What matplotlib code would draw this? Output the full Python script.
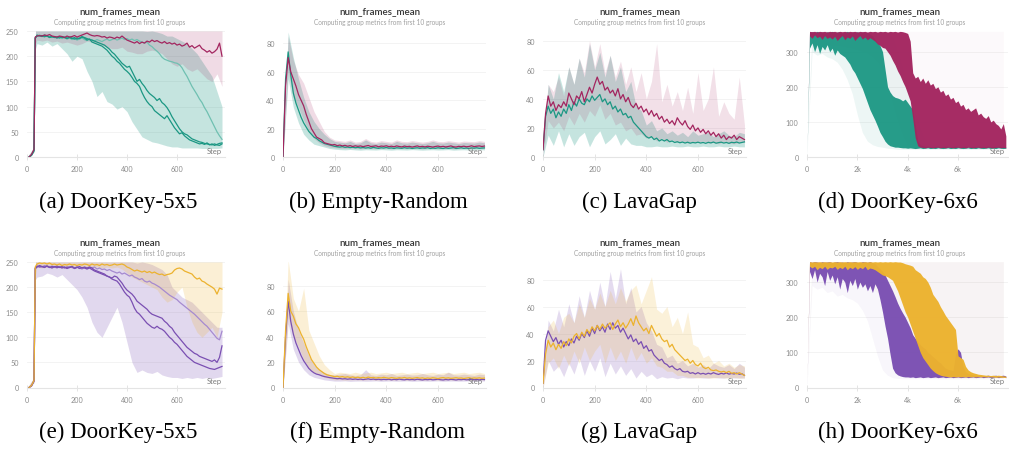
import numpy as np
import matplotlib.pyplot as plt

W, H = 1009, 452

TEAL = '#1b9783'
TEAL_LIGHT = '#6fc0b1'
MAGENTA = '#a3255f'
PURPLE = '#7a4fb2'
PURPLE_LIGHT = '#a68ad0'
GOLD = '#ecb22e'

# ---------------- (a) DoorKey-5x5 ----------------
# lines: steps 8, 18, 28, 33 then every 10 from 40
a_magenta = [0, 5, 15, 238,
             240, 241, 240, 242, 241, 243, 240, 239, 238, 240,
             239, 237, 240, 238, 239, 241, 238, 240, 242, 244,
             246, 243, 241, 240, 241, 240, 238, 239, 236, 238,
             237, 235, 238, 236, 240, 236, 232, 230, 228, 226,
             229, 225, 228, 226, 230, 228, 232, 229, 231, 228,
             226, 229, 225, 227, 224, 226, 222, 224, 220, 222,
             226, 218, 221, 216, 219, 222, 215, 212, 208, 211,
             206, 209, 214, 226, 200]
a_teal1 = [0, 4, 14, 236,
           240, 242, 240, 238, 241, 239, 237, 239, 236, 238,
           235, 237, 234, 236, 233, 235, 232, 234, 236, 233,
           231, 234, 232, 230, 233, 231, 229, 232, 234, 231,
           233, 235, 232, 234, 236, 233, 235, 232, 234, 231,
           233, 230, 228, 226, 228, 222, 219, 214, 210, 205,
           198, 194, 192, 190, 189, 187, 186, 183, 177, 168,
           160, 150, 140, 132, 124, 115, 108, 98, 90, 80,
           70, 60, 50, 42, 35]
a_teal2 = [0, 3, 12, 235,
           242, 240, 241, 239, 240, 238, 239, 237, 238, 236,
           239, 237, 235, 238, 236, 234, 236, 235, 238, 236,
           232, 234, 228, 226, 224, 222, 220, 216, 212, 206,
           200, 196, 190, 186, 180, 174, 170, 165, 158, 150,
           146, 140, 128, 118, 110, 104, 100, 92, 88, 84,
           80, 76, 82, 74, 66, 58, 52, 46, 48, 42,
           38, 34, 32, 30, 28, 26, 27, 25, 28, 24,
           26, 23, 25, 27, 28]
a_teal3 = [0, 4, 13, 237,
           240, 241, 239, 242, 240, 237, 239, 238, 236, 239,
           237, 238, 236, 237, 235, 237, 234, 236, 239, 237,
           235, 233, 232, 230, 228, 226, 224, 222, 218, 214,
           208, 204, 198, 192, 186, 182, 178, 180, 170, 160,
           150, 154, 146, 140, 132, 126, 122, 118, 112, 116,
           108, 104, 98, 90, 80, 72, 64, 56, 50, 46,
           44, 40, 36, 34, 32, 30, 29, 27, 26, 25,
           24, 26, 24, 23, 26]
# bands: steps 8, 28, 34 then every 20 from 40
a_teal_lo = [0, 10, 215,
             225, 222, 228, 220, 225, 215, 205, 190, 200, 195,
             170, 150, 120, 130, 110, 105, 95, 100, 90, 70,
             55, 40, 35, 30, 28, 25, 22, 20, 20, 18,
             18, 18, 18, 17, 17, 17, 17, 18]
a_teal_hi = [5, 20, 250] + [250] * 20 + [250, 250, 249, 250, 248, 245, 240, 240, 235, 230,
                                          225, 215, 205, 190, 175, 160, 130, 100]
a_pink_lo = [0, 10, 225,
             232, 230, 232, 228, 230, 226, 228, 225, 222, 225,
             230, 228, 225, 222, 218, 215, 215, 218, 210, 208,
             205, 205, 210, 212, 210, 205, 195, 185, 180, 185,
             175, 170, 175, 165, 155, 150, 165, 140]
a_pink_hi = [5, 20, 250] + [250] * 38

# ---------------- (b) Empty-Random ----------------
b_teal = [0, 55, 74, 58, 45, 38, 33, 28, 24, 21,
          18, 16, 14, 13, 11.5, 10.5, 9.5, 9, 8.5, 8,
          7.5, 7.2, 7, 7.3, 6.8, 7, 6.6, 6.9, 6.5, 6.8,
          6.4, 6.7, 6.3, 6.6, 6.2, 6.8, 6.4, 6.1, 6.5, 6.3,
          6.7, 6.2, 6.4, 6.0, 6.5, 6.3, 6.1, 6.6, 6.2, 6.4,
          6.0, 6.3, 6.5, 6.1, 6.4, 6.2, 6.6, 6.0, 6.3, 6.1,
          6.5, 6.2, 6.0, 6.4, 6.1, 6.3, 6.6, 6.0, 6.2, 6.5,
          6.1, 6.3, 6.0, 6.4, 6.2, 6.5, 6.1, 6.3, 6.4]
b_magenta = [0, 50, 70, 60, 55, 50, 44, 40, 36, 30,
             25, 20, 17, 14, 13, 12, 10, 9.5, 9, 8.5,
             8.8, 8, 8.4, 7.8, 8.2, 7.6, 8.0, 7.4, 7.9, 7.5,
             7.8, 7.3, 7.7, 8.1, 7.4, 7.6, 7.9, 7.2, 7.7, 7.5,
             7.9, 7.3, 7.6, 7.2, 7.8, 7.4, 7.1, 7.7, 7.3, 7.5,
             7.0, 7.4, 7.8, 7.2, 7.5, 7.1, 7.6, 7.3, 7.0, 7.4,
             7.7, 7.2, 7.5, 7.1, 7.4, 7.8, 7.2, 7.0, 7.5, 7.3,
             7.6, 7.2, 7.4, 7.9, 7.3, 7.6, 7.8, 7.4, 7.7]
b_teal_lo = [0, 55, 35, 24, 16, 12, 9, 8, 7, 6,
             5.5, 5.2, 5, 5.3, 5, 4.8, 5.1, 5, 4.9, 5.2,
             5, 4.8, 5.1, 5, 4.9, 5.2, 5, 4.8, 5, 5.1,
             4.9, 5, 5.2, 4.8, 5, 5.1, 4.9, 5, 5.2, 5]
b_teal_hi = [0, 88, 70, 55, 42, 32, 25, 20, 16, 13,
             11, 10.5, 10, 11, 9.5, 10, 12, 10, 9.5, 10.5,
             10, 9.5, 11, 10, 9.8, 10.5, 10, 9.5, 10, 11,
             10, 9.8, 10.5, 10, 9.5, 10.2, 10, 9.8, 10.5, 10]
b_pink_lo = [0, 60, 42, 35, 26, 18, 13, 10, 8, 7,
             6.5, 6.2, 6, 6.3, 6, 5.8, 6.1, 6, 5.9, 6.2,
             6, 5.8, 6.1, 6, 5.9, 6.2, 6, 5.8, 6, 6.1,
             5.9, 6, 6.2, 5.8, 6, 6.1, 5.9, 6, 6.2, 6]
b_pink_hi = [0, 85, 68, 58, 52, 42, 32, 25, 18, 14,
             12, 11.5, 11, 12, 10.5, 11, 13, 11, 10.5, 11.5,
             11, 10.5, 12, 11, 10.8, 11.5, 11, 10.5, 11, 12,
             11, 10.8, 11.5, 11, 10.5, 11.2, 11, 10.8, 11.5, 11]

# ---------------- (c) LavaGap ----------------
c_magenta = [5, 30, 42, 35, 38, 32, 36, 34, 38, 35,
             44, 40, 36, 42, 40, 45, 38, 43, 48, 44,
             50, 55, 50, 52, 46, 48, 44, 46, 42, 47,
             40, 43, 38, 41, 36, 34, 37, 33, 35, 31,
             33, 29, 32, 28, 30, 26, 28, 24, 26, 23,
             25, 22, 27, 24, 22, 25, 21, 19, 22, 18,
             20, 17, 19, 16, 18, 15, 17, 14, 16, 13,
             15, 12, 14, 13, 15, 12, 14, 13, 12]
c_teal = [5, 28, 35, 30, 33, 27, 31, 28, 33, 30,
          36, 32, 38, 35, 40, 37, 36, 40, 38, 42,
          39, 41, 43, 38, 40, 36, 38, 33, 35, 31,
          33, 29, 30, 27, 28, 24, 22, 20, 18, 16,
          14, 13, 14, 12, 13, 11, 12, 11, 12, 10.5,
          11, 10, 10.5, 9.8, 10.3, 9.6, 10.2, 9.5, 10, 9.7,
          10.2, 9.6, 10, 9.4, 10.1, 9.7, 10.3, 9.5, 9.9, 10.2,
          9.6, 10, 9.4, 10.1, 9.8, 10.3, 9.6, 10, 10.4]
c_teal_lo = [0, 15, 8, 18, 7, 16, 8, 14, 17, 7,
             14, 18, 9, 12, 16, 8, 13, 9, 8, 8,
             7, 7, 7.5, 7, 7, 7.5, 7, 7, 7.5, 7,
             7, 7.5, 7, 7, 7.5, 7, 7, 7.5, 7, 7]
c_teal_hi = [10, 50, 40, 58, 45, 62, 50, 68, 55, 78,
             60, 72, 55, 70, 52, 62, 45, 52, 35, 32,
             22, 25, 18, 20, 16, 18, 15, 17, 14, 18,
             15, 16, 17, 14, 16, 18, 15, 14, 17, 16]
c_pink_lo = [0, 25, 20, 24, 18, 28, 22, 30, 24, 32,
             28, 36, 26, 30, 22, 24, 18, 20, 15, 16,
             13, 14, 11, 13, 10, 12, 10, 11, 9.5, 10.5,
             10, 11, 9.5, 10, 9, 10.5, 9.5, 9, 10, 10]
c_pink_hi = [10, 50, 45, 55, 42, 62, 50, 68, 58, 80,
             62, 78, 58, 70, 55, 66, 50, 62, 45, 58,
             40, 52, 78, 38, 50, 35, 45, 32, 48, 30,
             58, 32, 40, 62, 28, 38, 30, 26, 55, 22]

# ---------------- (d) DoorKey-6x6 ----------------
# dense runs drawn as their envelope, every 100 steps
d_teal_lo = [0, 310, 325, 300, 320, 295, 315, 305, 320, 300,
             310, 290, 305, 295, 290, 285, 275, 265, 250, 240,
             225, 210, 195, 175, 155, 135, 120, 105, 88, 70,
             58, 45, 37, 32, 30, 28, 28, 27, 26, 26,
             25, 26, 25, 24, 25, 26, 24, 25, 26, 24,
             25, 24, 26, 25, 24, 25, 26, 24, 25, 24,
             26, 25, 24, 25, 26, 24, 25, 24, 26, 25,
             24, 25, 26, 24, 25, 24, 26, 25, 24, 25]
d_teal_hi = [0, 355, 357, 354, 358, 355, 356, 353, 357, 355,
             358, 354, 356, 357, 353, 355, 358, 354, 356, 355,
             357, 353, 356, 354, 355, 350, 345, 335, 325, 318,
             300, 250, 200, 185, 175, 170, 168, 165, 160, 165,
             155, 145, 135, 90, 45, 35, 32, 30, 31, 30,
             29, 30, 31, 29, 30, 31, 30, 29, 30, 31,
             30, 29, 30, 31, 29, 30, 30, 29, 31, 30,
             29, 30, 31, 29, 30, 29, 31, 30, 29, 28]
d_magenta_lo = [0, 345, 338, 348, 340, 344, 335, 346, 338, 342,
                336, 344, 332, 340, 346, 334, 342, 338, 345, 332,
                340, 346, 336, 342, 334, 340, 335, 330, 322, 318,
                312, 310, 300, 290, 275, 262, 245, 232, 215, 200,
                180, 160, 110, 55, 32, 28, 27, 26, 28, 27,
                26, 27, 28, 26, 27, 26, 28, 27, 26, 27,
                28, 26, 27, 26, 28, 27, 26, 27, 28, 26,
                27, 26, 28, 27, 26, 27, 28, 26, 27, 26]
d_magenta_hi = [0, 358, 357, 358, 356, 358, 357, 358, 356, 358,
                357, 358, 356, 358, 357, 358, 356, 358, 357, 358,
                356, 358, 357, 358, 356, 358, 357, 358, 356, 358,
                357, 358, 356, 358, 357, 358, 356, 358, 357, 355,
                352, 330, 240, 225, 230, 215, 225, 210, 220, 205,
                210, 195, 200, 185, 190, 175, 180, 165, 170, 155,
                160, 145, 150, 135, 140, 130, 135, 140, 120, 125,
                115, 110, 118, 100, 105, 95, 90, 80, 95, 60]
# faint spread, every 200 steps
d_teal_band_lo = [0, 300, 290, 295, 285, 280, 270, 250, 220, 180,
                  120, 70, 45, 35, 30, 28, 25, 24, 22, 22,
                  22, 22, 22, 22, 22, 22, 22, 22, 22, 22,
                  22, 22, 22, 22, 22, 22, 22, 22, 22, 22]
d_teal_band_hi = [0, 358, 358, 358, 358, 358, 358, 358, 358, 358,
                  358, 358, 358, 358, 358, 358, 358, 340, 300, 250,
                  200, 150, 100, 60, 40, 35, 32, 32, 32, 32,
                  32, 32, 32, 32, 32, 32, 32, 32, 32, 32]
d_pink_band_lo = [0, 320, 320, 318, 320, 315, 318, 315, 312, 310,
                  305, 300, 295, 285, 270, 250, 200, 150, 100, 60,
                  30, 25, 24, 24, 24, 24, 24, 24, 24, 24,
                  24, 24, 24, 24, 24, 24, 24, 24, 24, 24]
d_pink_band_hi = [0] + [358] * 39

# ---------------- (e) DoorKey-5x5 ----------------
e_gold = [0, 4, 14, 240,
          246, 248, 247, 248, 246, 248, 245, 246, 244, 246,
          243, 245, 244, 246, 244, 245, 243, 245, 244, 246,
          245, 243, 246, 244, 245, 243, 246, 244, 245, 243,
          244, 246, 244, 245, 246, 244, 240, 238, 235, 232,
          234, 232, 230, 232, 229, 231, 228, 230, 227, 225,
          226, 223, 225, 226, 228, 234, 237, 238, 236, 232,
          230, 228, 226, 220, 216, 218, 212, 210, 206, 203,
          200, 196, 186, 198, 196]
e_purple1 = [0, 3, 12, 236,
             240, 242, 240, 243, 241, 239, 242, 240, 238, 241,
             239, 240, 238, 241, 239, 237, 240, 238, 236, 239,
             237, 240, 238, 240, 236, 238, 235, 236, 233, 235,
             232, 230, 228, 230, 226, 228, 225, 222, 224, 220,
             218, 215, 217, 212, 210, 212, 208, 206, 203, 200,
             196, 192, 188, 184, 181, 178, 175, 170, 166, 162,
             158, 154, 150, 146, 141, 136, 131, 126, 122, 116,
             110, 104, 98, 95, 112]
e_purple2 = [0, 4, 14, 238,
             242, 240, 241, 239, 242, 240, 238, 241, 239, 240,
             238, 240, 237, 239, 241, 238, 240, 237, 239, 238,
             236, 238, 235, 232, 230, 228, 226, 224, 222, 220,
             218, 222, 220, 214, 208, 200, 194, 190, 186, 180,
             172, 168, 164, 160, 156, 150, 146, 144, 142, 140,
             138, 132, 128, 122, 118, 110, 104, 98, 92, 86,
             80, 76, 72, 68, 66, 62, 60, 58, 56, 54,
             52, 55, 50, 60, 83]
e_purple3 = [0, 3, 13, 237,
             240, 243, 241, 240, 242, 239, 241, 240, 242, 239,
             241, 238, 240, 239, 241, 237, 239, 241, 238, 240,
             238, 240, 238, 234, 232, 230, 228, 226, 222, 220,
             216, 214, 212, 206, 198, 190, 184, 180, 170, 158,
             150, 146, 140, 134, 128, 124, 120, 118, 122, 118,
             116, 112, 106, 100, 96, 90, 86, 80, 74, 68,
             62, 58, 54, 50, 48, 46, 44, 42, 40, 38,
             37, 36, 38, 40, 42]
e_purple_lo = [0, 10, 215,
               220, 222, 228, 225, 220, 225, 215, 205, 195, 180,
               160, 130, 110, 100, 120, 140, 160, 130, 90, 50,
               30, 35, 30, 28, 32, 25, 22, 20, 20, 18,
               20, 18, 20, 18, 20, 18, 20, 22]
e_purple_hi = [5, 20, 250] + [250] * 20 + [248, 250, 248, 245, 240, 235, 225, 200, 190, 180,
                                            175, 170, 160, 150, 140, 130, 120, 120]
e_gold_lo = [0, 10, 225,
             240, 238, 240, 238, 240, 238, 240, 238, 240, 238,
             240, 238, 240, 238, 240, 238, 240, 236, 228, 220,
             215, 210, 205, 200, 195, 180, 170, 175, 190, 200,
             160, 130, 110, 100, 110, 120, 100, 150]
e_gold_hi = [5, 20, 250] + [250] * 38

# ---------------- (f) Empty-Random ----------------
f_purple = [0, 40, 68, 52, 42, 35, 30, 25, 21, 18,
            15, 13, 11.5, 10.5, 10, 9.2, 8.6, 8.2, 7.8, 7.5,
            7.2, 6.9, 7.1, 6.7, 6.9, 6.5, 6.8, 6.4, 6.7, 6.3,
            6.6, 6.2, 6.5, 6.8, 6.3, 6.6, 6.2, 6.5, 6.1, 6.4,
            6.2, 6.5, 6.0, 6.4, 6.1, 6.6, 6.2, 6.0, 6.4, 6.1,
            6.3, 6.0, 6.5, 6.2, 5.9, 6.3, 6.1, 6.4, 6.0, 6.2,
            6.5, 6.1, 5.9, 6.3, 6.0, 6.4, 6.2, 5.9, 6.3, 6.1,
            6.4, 6.0, 6.2, 6.5, 6.1, 6.3, 6.0, 6.4, 6.2]
f_gold = [0, 45, 74, 60, 56, 50, 47, 42, 38, 32,
          27, 22, 19, 16, 14, 12.5, 11, 10, 9.5, 9,
          8.5, 8.8, 8.2, 8.6, 8.0, 8.4, 7.9, 8.3, 7.7, 8.1,
          7.6, 8.0, 7.5, 8.2, 7.7, 7.9, 7.4, 7.8, 7.5, 8.0,
          7.6, 7.3, 7.8, 7.5, 7.2, 7.7, 7.4, 7.9, 7.3, 7.6,
          7.2, 7.5, 7.8, 7.3, 7.6, 7.1, 7.5, 7.2, 7.7, 7.4,
          7.0, 7.5, 7.8, 7.3, 7.6, 7.2, 7.4, 7.7, 7.3, 7.5,
          7.1, 7.4, 7.7, 7.2, 7.5, 7.3, 7.6, 7.2, 7.4]
f_purple_lo = [0, 50, 30, 20, 14, 10, 8, 7, 6, 5.5,
               5, 5, 5.2, 4.8, 5, 5.1, 4.9, 5, 5.2, 4.8,
               5, 5.1, 4.9, 5, 5.2, 4.8, 5, 5.1, 4.9, 5,
               5.2, 4.8, 5, 5.1, 4.9, 5, 5.2, 4.8, 5, 5.1]
f_purple_hi = [0, 85, 60, 45, 35, 25, 18, 14, 12, 10,
               10, 10.5, 11, 10, 9.5, 10, 14, 10, 9.5, 10.5,
               10, 11, 9.5, 10, 10.5, 9.8, 10, 11, 10, 9.5,
               10.5, 10, 12, 10, 9.8, 10.5, 10, 9.5, 10.5, 10]
f_gold_lo = [0, 55, 40, 32, 22, 15, 12, 10, 8, 7,
             6, 6.2, 5.8, 6, 6.1, 5.9, 6, 6.2, 5.8, 6,
             6.1, 5.9, 6, 6.2, 5.8, 6, 6.1, 5.9, 6, 6.2,
             5.8, 6, 6.1, 5.9, 6, 6.2, 5.8, 6, 6.1, 6]
f_gold_hi = [0, 100, 70, 60, 78, 45, 35, 25, 18, 14,
             11, 12, 11.5, 11, 12, 11, 11.5, 12, 11, 11.5,
             12, 11, 11.5, 12, 11, 11.5, 12, 11, 11.5, 12,
             11, 11.5, 12, 11, 11.5, 12, 11, 11.5, 12, 11]

# ---------------- (g) LavaGap ----------------
g_purple = [3, 35, 42, 38, 34, 37, 32, 35, 30, 34,
            31, 36, 33, 38, 35, 40, 37, 42, 38, 44,
            40, 46, 42, 45, 41, 47, 43, 48, 44, 46,
            41, 44, 40, 36, 39, 34, 36, 32, 34, 29,
            31, 27, 28, 24, 22, 20, 21, 18, 17, 15,
            16, 14, 13, 14, 12, 11.5, 12, 10.5, 11, 10,
            11, 10, 10.5, 9.8, 10.6, 10, 11, 10.2, 9.7, 10.5,
            10, 10.8, 9.9, 10.4, 10, 10.7, 9.8, 10.2, 9]
g_gold = [3, 25, 35, 30, 33, 28, 32, 29, 34, 31,
          36, 33, 38, 40, 36, 41, 38, 43, 40, 45,
          42, 46, 43, 47, 44, 46, 48, 43, 47, 50,
          45, 48, 44, 47, 51, 46, 53, 48, 45, 42,
          44, 40, 46, 42, 38, 40, 36, 34, 35, 30,
          32, 28, 26, 24, 22, 20, 21, 18, 20, 17,
          16, 18, 15, 14, 15, 13, 12.5, 13, 12, 11.5,
          12, 11, 12, 10.5, 11, 10, 11, 10, 9]
g_purple_lo = [0, 20, 12, 16, 8, 18, 10, 22, 9, 20,
               12, 22, 8, 18, 10, 16, 9, 14, 7, 12,
               8, 10, 6.5, 8, 7, 7.5, 6.5, 7.5, 7, 7,
               7.5, 7, 7, 7.5, 7, 7, 7.5, 7, 7, 7]
g_purple_hi = [10, 50, 42, 58, 45, 62, 48, 68, 52, 72,
               58, 78, 60, 86, 66, 88, 62, 74, 56, 60,
               48, 42, 32, 30, 22, 24, 18, 20, 16, 18,
               15, 17, 14, 18, 16, 15, 17, 14, 18, 15]
g_gold_lo = [0, 18, 22, 14, 24, 16, 27, 18, 30, 20,
             27, 32, 18, 30, 20, 27, 18, 30, 20, 26,
             18, 22, 16, 15, 12, 12, 9, 9, 7.5, 7.5,
             7, 7.5, 7, 7, 7.5, 7, 7, 7.5, 7, 7]
g_gold_hi = [10, 45, 50, 40, 52, 55, 48, 62, 52, 66,
             58, 70, 60, 72, 62, 74, 64, 72, 76, 62,
             72, 82, 58, 55, 60, 45, 52, 40, 56, 32,
             30, 22, 24, 18, 20, 16, 18, 15, 17, 16]

# ---------------- (h) DoorKey-6x6 ----------------
h_purple_lo = [0, 330, 310, 335, 300, 325, 315, 290, 330, 305,
               320, 295, 315, 280, 310, 300, 270, 305, 290, 310,
               280, 300, 285, 295, 275, 290, 270, 295, 280, 250,
               215, 175, 140, 95, 55, 42, 36, 33, 31, 30,
               30, 29, 30, 28, 29, 30, 28, 29, 30, 28,
               29, 30, 28, 29, 30, 28, 29, 30, 28, 29,
               30, 28, 29, 30, 28, 29, 30, 28, 29, 30,
               28, 29, 30, 28, 29, 30, 28, 29, 30, 28]
h_purple_hi = [0, 358, 356, 358, 357, 355, 358, 356, 357, 358,
               355, 357, 358, 356, 357, 355, 358, 356, 357, 358,
               356, 355, 358, 357, 356, 358, 355, 352, 345, 338,
               330, 320, 305, 290, 275, 258, 240, 225, 212, 200,
               185, 170, 150, 140, 130, 122, 115, 110, 100, 95,
               88, 82, 75, 70, 62, 55, 52, 50, 48, 95,
               110, 100, 60, 45, 40, 38, 36, 35, 34, 35,
               33, 34, 35, 33, 34, 35, 33, 34, 35, 33]
h_gold_lo = [0, 345, 340, 345, 335, 342, 338, 345, 336, 342,
             340, 345, 336, 342, 338, 345, 335, 342, 338, 344,
             336, 342, 338, 345, 335, 340, 338, 335, 330, 325,
             320, 318, 315, 310, 305, 290, 275, 255, 235, 215,
             200, 180, 160, 140, 120, 100, 85, 75, 65, 55,
             48, 42, 38, 35, 33, 32, 31, 30, 31, 30,
             31, 30, 31, 30, 31, 30, 31, 30, 31, 30,
             31, 30, 31, 30, 30, 29, 30, 29, 29, 28]
h_gold_hi = [0, 358, 357, 358, 357, 358, 357, 358, 357, 358,
             357, 358, 357, 358, 357, 358, 357, 358, 357, 358,
             357, 358, 357, 358, 357, 358, 357, 358, 357, 358,
             357, 358, 357, 358, 357, 358, 357, 357, 355, 352,
             350, 348, 345, 335, 330, 325, 315, 310, 300, 285,
             265, 255, 245, 230, 218, 205, 195, 185, 175, 165,
             90, 85, 80, 60, 50, 45, 42, 40, 38, 37,
             36, 35, 35, 34, 35, 34, 35, 34, 33, 32]
h_purple_band_lo = [0, 290, 280, 285, 270, 275, 260, 265, 255, 250,
                    240, 220, 190, 140, 90, 50, 35, 28, 26, 25,
                    25, 25, 25, 25, 25, 25, 25, 25, 25, 25,
                    25, 25, 25, 25, 25, 25, 25, 25, 25, 25]
h_gold_band_lo = [0, 320, 315, 320, 310, 315, 310, 305, 300, 300,
                  295, 290, 285, 280, 270, 250, 220, 190, 150, 120,
                  90, 70, 55, 40, 32, 28, 26, 26, 26, 26,
                  26, 26, 26, 26, 26, 26, 26, 26, 26, 26]
h_band_hi = [0] + [358] * 39

CAPTIONS = ['(a) DoorKey-5x5', '(b) Empty-Random', '(c) LavaGap', '(d) DoorKey-6x6',
            '(e) DoorKey-5x5', '(f) Empty-Random', '(g) LavaGap', '(h) DoorKey-6x6']


def grid(early, start, stride, values):
    n = len(values) - len(early)
    return np.array(list(early) + list(start + stride * np.arange(n)), dtype=float)


COLS = [(27, 225), (283, 486), (543, 746), (807, 1008)]
ROWS = [(32, 158), (263, 388.5)]
TITLE_X = [120, 380, 640, 900]
CAP_X = [118, 378, 639, 898]
CAP_Y = [208, 438]

plt.rcParams['font.family'] = ['Lato', 'DejaVu Sans']
fig = plt.figure(figsize=(W / 100, H / 100), dpi=100)
fig.patch.set_facecolor('white')


def make_axes(r, c, xlim, ylim, yticks, xticks, xlabels):
    l, rr = COLS[c]
    t, b = ROWS[r]
    ax = fig.add_axes([l / W, 1 - b / H, (rr - l) / W, (b - t) / H])
    ax.set_xlim(*xlim)
    ax.set_ylim(*ylim)
    for s in ['top', 'right', 'left']:
        ax.spines[s].set_visible(False)
    ax.spines['bottom'].set_color('#e4e4e4')
    ax.spines['bottom'].set_linewidth(0.8)
    ax.set_yticks(yticks)
    ax.set_xticks(xticks)
    ax.set_xticklabels(xlabels)
    ax.tick_params(axis='y', length=0, labelsize=5.2, labelcolor='#8c8c8c', pad=6)
    ax.tick_params(axis='x', length=4, width=0.7, direction='inout', color='#e4e4e4',
                   labelsize=5.2, labelcolor='#8c8c8c', pad=4)
    ax.grid(axis='y', color='#f1f1f1', lw=0.6)
    ax.set_axisbelow(True)
    ax.text(0.985, 0.025, 'Step', transform=ax.transAxes, ha='right', va='bottom',
            fontsize=5.4, color='#7a7a7a', zorder=10)
    fig.text(TITLE_X[c] / W, 1 - (t - 20) / H, 'num_frames_mean', ha='center', va='center',
             fontsize=7, fontweight='semibold', color='#333333')
    fig.text(TITLE_X[c] / W, 1 - (t - 9.5) / H, 'Computing group metrics from first 10 groups',
             ha='center', va='center', fontsize=4.7, color='#a0a0a0')
    fig.text(CAP_X[c] / W, 1 - CAP_Y[r] / H, CAPTIONS[r * 4 + c], ha='center', va='baseline',
             fontsize=16.5, family='Liberation Serif', color='black')
    return ax


def band(ax, x, lo, hi, color, alpha=0.22):
    ax.fill_between(x, lo, hi, color=color, alpha=alpha, lw=0)


def line(ax, x, y, color, alpha=1.0, lw=0.9):
    ax.plot(x, y, color=color, lw=lw, alpha=alpha, solid_joinstyle='round')


T5 = [0, 50, 100, 150, 200, 250]
T8 = [0, 20, 40, 60, 80]
T3 = [0, 100, 200, 300]
XS = [0, 200, 400, 600]
XK = [0, 2000, 4000, 6000]
XKL = ['0', '2k', '4k', '6k']

# (a)
ax = make_axes(0, 0, (0, 792), (0, 250), T5, XS, ['0', '200', '400', '600'])
xl = grid([8, 18, 28, 33], 40, 10, a_magenta)
xb = grid([8, 28, 34], 40, 20, a_teal_lo)
band(ax, xb, a_teal_lo, a_teal_hi, TEAL, 0.25)
band(ax, xb, a_pink_lo, a_pink_hi, MAGENTA, 0.16)
line(ax, xl, a_teal1, TEAL_LIGHT)
line(ax, xl, a_teal2, TEAL)
line(ax, xl, a_teal3, TEAL)
line(ax, xl, a_magenta, MAGENTA)

# (b)
ax = make_axes(0, 1, (0, 786), (0, 88.7), T8, XS, ['0', '200', '400', '600'])
xl = grid([], 0, 10, b_teal)
xb = grid([], 0, 20, b_teal_lo)
band(ax, xb, b_teal_lo, b_teal_hi, TEAL, 0.25)
band(ax, xb, b_pink_lo, b_pink_hi, MAGENTA, 0.16)
line(ax, xl, b_teal, TEAL)
line(ax, xl, b_magenta, MAGENTA)

# (c)
ax = make_axes(0, 2, (0, 786), (0, 86.7), T8, XS, ['0', '200', '400', '600'])
xl = grid([], 0, 10, c_teal)
xb = grid([], 0, 20, c_teal_lo)
band(ax, xb, c_teal_lo, c_teal_hi, TEAL, 0.25)
band(ax, xb, c_pink_lo, c_pink_hi, MAGENTA, 0.14)
line(ax, xl, c_teal, TEAL)
line(ax, xl, c_magenta, MAGENTA)

# (d)
ax = make_axes(0, 3, (0, 7986), (0, 359), T3, XK, XKL)
xs = grid([], 0, 100, d_teal_lo)
xb = grid([], 0, 200, d_teal_band_hi)
band(ax, xb, d_teal_band_lo, d_teal_band_hi, TEAL, 0.08)
band(ax, xb, d_pink_band_lo, d_pink_band_hi, MAGENTA, 0.025)
band(ax, xs, d_teal_lo, d_teal_hi, TEAL, 0.95)
band(ax, xs, d_magenta_lo, d_magenta_hi, MAGENTA, 0.97)

# (e)
ax = make_axes(1, 0, (0, 792), (0, 250), T5, XS, ['0', '200', '400', '600'])
xl = grid([8, 18, 28, 33], 40, 10, e_gold)
xb = grid([8, 28, 34], 40, 20, e_purple_lo)
band(ax, xb, e_purple_lo, e_purple_hi, PURPLE, 0.22)
band(ax, xb, e_gold_lo, e_gold_hi, GOLD, 0.2)
line(ax, xl, e_purple1, PURPLE_LIGHT)
line(ax, xl, e_purple2, PURPLE)
line(ax, xl, e_purple3, PURPLE)
line(ax, xl, e_gold, GOLD)

# (f)
ax = make_axes(1, 1, (0, 786), (0, 98.6), T8, XS, ['0', '200', '400', '600'])
xl = grid([], 0, 10, f_purple)
xb = grid([], 0, 20, f_purple_lo)
band(ax, xb, f_purple_lo, f_purple_hi, PURPLE, 0.22)
band(ax, xb, f_gold_lo, f_gold_hi, GOLD, 0.2)
line(ax, xl, f_purple, PURPLE)
line(ax, xl, f_gold, GOLD)

# (g)
ax = make_axes(1, 2, (0, 786), (0, 93), T8, XS, ['0', '200', '400', '600'])
xl = grid([], 0, 10, g_purple)
xb = grid([], 0, 20, g_purple_lo)
band(ax, xb, g_purple_lo, g_purple_hi, PURPLE, 0.2)
band(ax, xb, g_gold_lo, g_gold_hi, GOLD, 0.18)
line(ax, xl, g_purple, PURPLE)
line(ax, xl, g_gold, GOLD)

# (h)
ax = make_axes(1, 3, (0, 7986), (0, 357), T3, XK, XKL)
xs = grid([], 0, 100, h_purple_lo)
xb = grid([], 0, 200, h_band_hi)
band(ax, xb, h_purple_band_lo, h_band_hi, PURPLE, 0.05)
band(ax, xb, h_gold_band_lo, h_band_hi, GOLD, 0.03)
band(ax, xs, h_purple_lo, h_purple_hi, PURPLE, 0.97)
band(ax, xs, h_gold_lo, h_gold_hi, GOLD, 0.97)

fig.savefig('out.png', dpi=100, facecolor='white')
